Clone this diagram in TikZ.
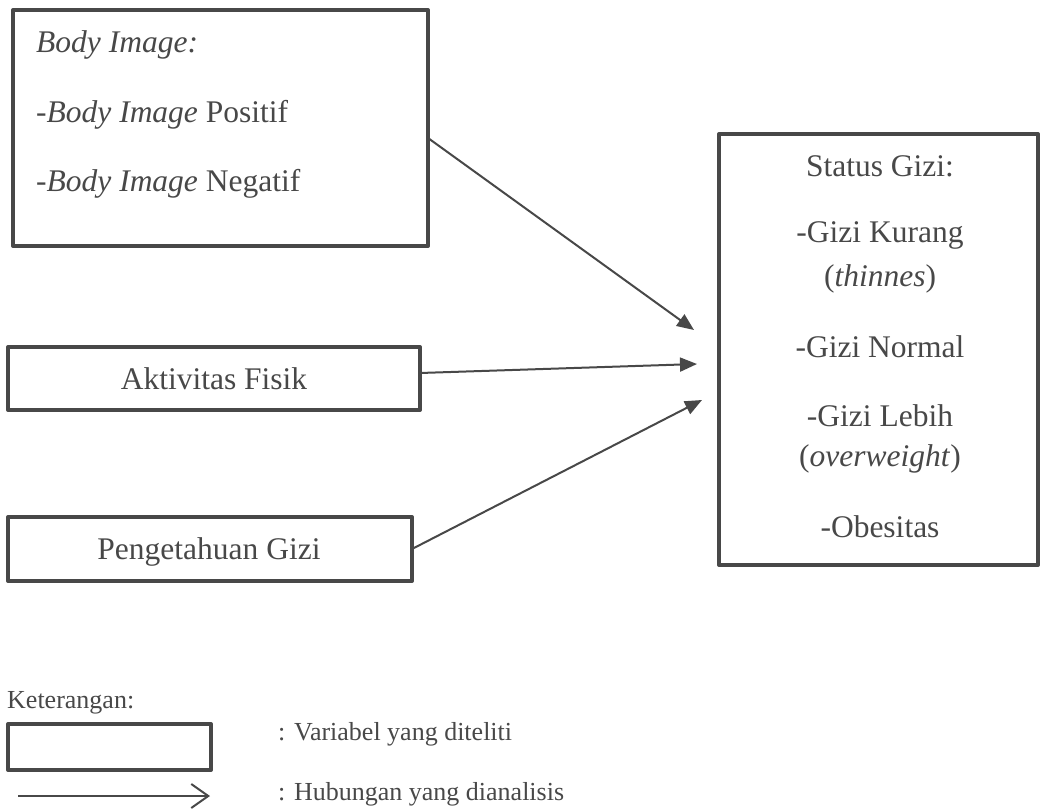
\documentclass[tikz,border=0pt]{standalone}
\usepackage{fontspec}
\setmainfont{Liberation Serif}
\usetikzlibrary{arrows.meta}
\definecolor{ink}{RGB}{72,72,72}
\begin{document}
\begin{tikzpicture}[x=1pt,y=-1pt,
  box/.style={draw=ink, line width=4pt, line join=round, rectangle, inner sep=0pt, outer sep=0pt},
  txt/.style={text=ink, font=\fontsize{31.5}{38}\selectfont, inner sep=0pt},
  small/.style={text=ink, font=\fontsize{26}{31}\selectfont, inner sep=0pt},
  arr/.style={draw=ink, line width=2pt, -{Triangle[length=17pt,width=14pt]}},
  legarr/.style={draw=ink, line width=2pt, -{Straight Barb[length=17pt,width=24pt]}}]
\useasboundingbox (0,0) rectangle (1041,810);

% boxes
\node[box, minimum width=415pt, minimum height=236pt] (body) at (220.5,128) {};
\node[box, minimum width=319pt, minimum height=431pt] (status) at (878.5,349.5) {};
\node[box, minimum width=412pt, minimum height=63pt] (akt) at (214,378.5) {};
\node[box, minimum width=404pt, minimum height=64pt] (peng) at (210,549) {};
\node[box, minimum width=203pt, minimum height=46pt] (leg) at (109.5,747) {};

% body image texts
\node[txt, anchor=base west] (b1) at (36,53) {\textit{Body Image:}};
\node[txt, anchor=base west] (b2) at (36,123) {-\textit{Body Image} Positif};
\node[txt, anchor=base west] (b3) at (36,192) {-\textit{Body Image} Negatif};

% status texts
\node[txt, anchor=base] (s1) at (880,177) {Status Gizi:};
\node[txt, anchor=base] (s2) at (880,243) {-Gizi Kurang};
\node[txt, anchor=base] (s3) at (880,287) {(\textit{thinnes})};
\node[txt, anchor=base] (s4) at (880,357) {-Gizi Normal};
\node[txt, anchor=base] (s5) at (880,426) {-Gizi Lebih};
\node[txt, anchor=base] (s6) at (880,466) {(\textit{overweight})};
\node[txt, anchor=base] (s7) at (880,537) {-Obesitas};

% other variable texts
\node[txt, anchor=base] (ta) at (214,389) {Aktivitas Fisik};
\node[txt, anchor=base] (tp) at (209,559) {Pengetahuan Gizi};

% connectors
\coordinate (t1) at (694,330);
\coordinate (t2) at (697,364);
\coordinate (t3) at (702,400);
\draw[arr] (body.east |- 0,138) -- (t1);
\draw[arr] (akt.east |- 0,373) -- (t2);
\draw[arr] (peng.east) -- (t3);

% legend
\node[small, anchor=base west] (ket) at (7,708) {Keterangan:};
\node[small, anchor=base west] (l1) at (278,740) {: Variabel yang diteliti};
\node[small, anchor=base west] (l2) at (278,800) {: Hubungan yang dianalisis};
\coordinate (la) at (18,796);
\coordinate (lb) at (210,796);
\draw[legarr] (la) -- (lb);
\end{tikzpicture}
\end{document}
